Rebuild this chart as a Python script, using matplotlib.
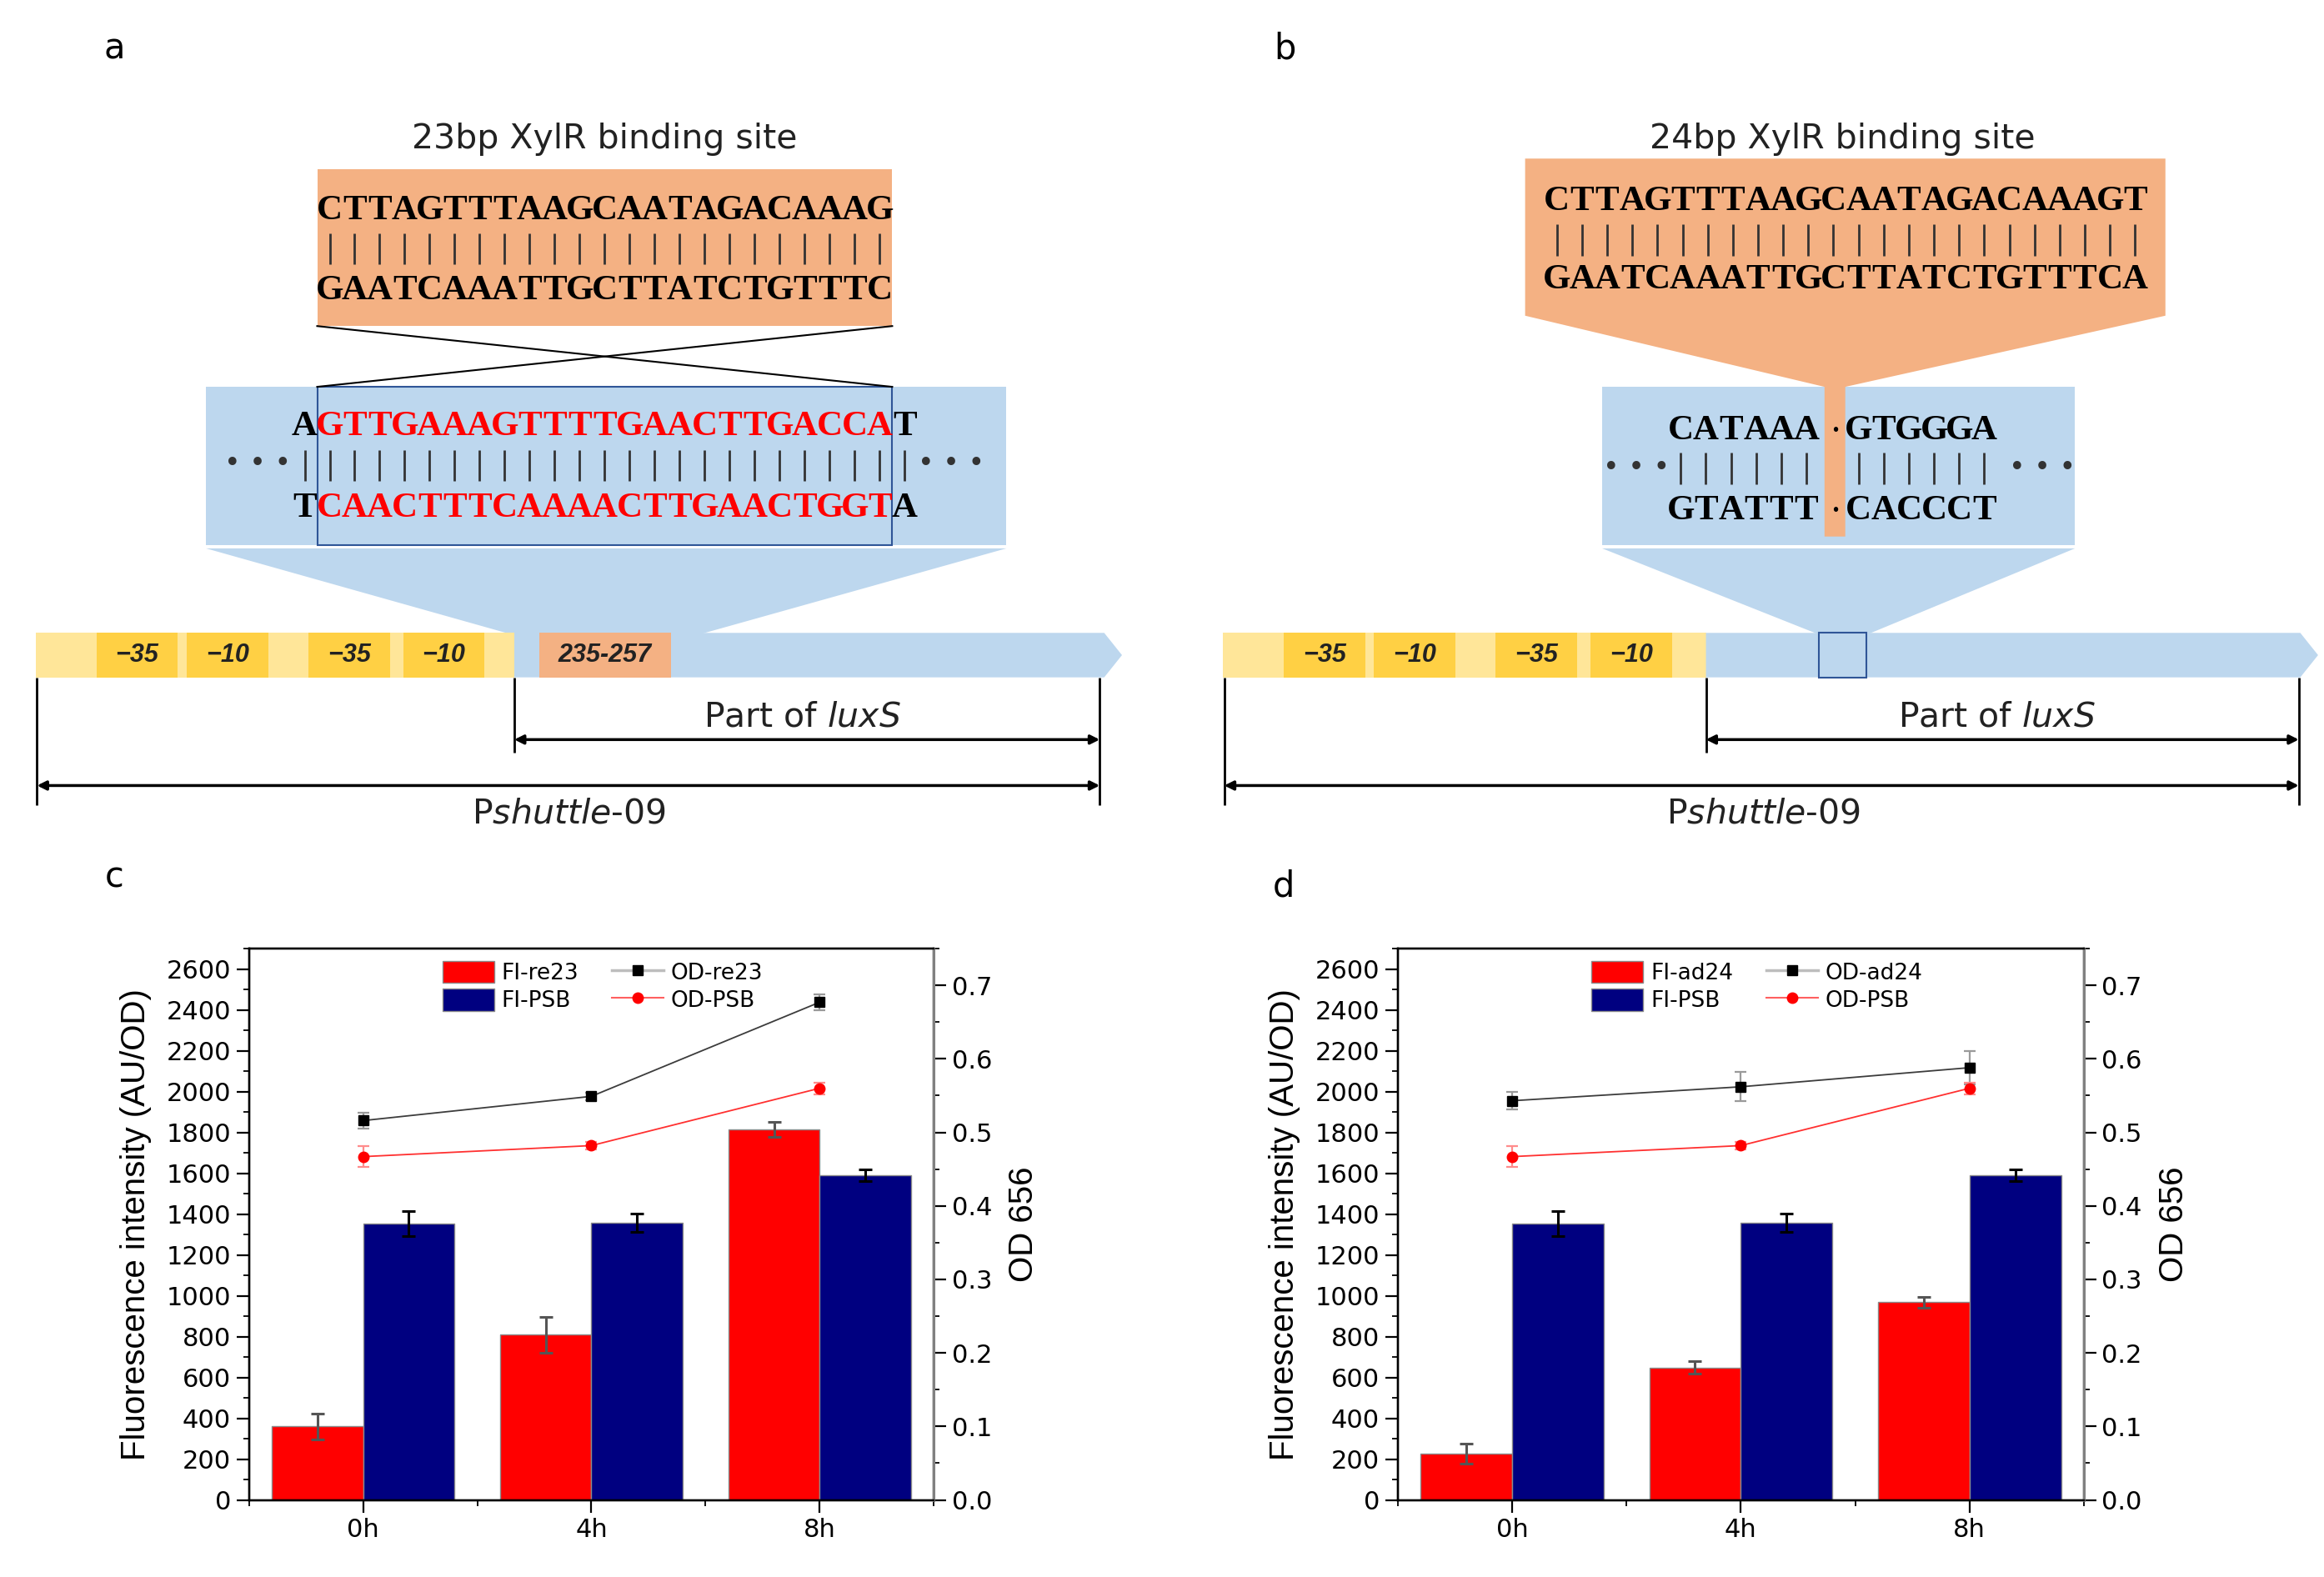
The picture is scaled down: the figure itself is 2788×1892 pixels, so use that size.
import numpy as np
import matplotlib
matplotlib.use('Agg')
import matplotlib.pyplot as plt
from matplotlib.patches import Polygon, Rectangle, Patch
from matplotlib.lines import Line2D
from matplotlib.ticker import MultipleLocator, FixedLocator, FormatStrFormatter

plt.rcParams['font.family'] = ['DejaVu Sans']
plt.rcParams['mathtext.fontset'] = 'dejavusans'

# ---- data ----
times = ['0h', '4h', '8h']
fi_re23 = [360, 810, 1815]
fi_re23_err = [62, 88, 36]
fi_ad24 = [227, 648, 968]
fi_ad24_err = [48, 31, 28]
fi_psb = [1353, 1357, 1590]
fi_psb_err = [62, 44, 30]
od_re23 = [0.516, 0.549, 0.677]
od_re23_err = [0.011, 0.005, 0.011]
od_ad24 = [0.543, 0.562, 0.588]
od_ad24_err = [0.012, 0.020, 0.023]
od_psb = [0.467, 0.482, 0.560]
od_psb_err = [0.014, 0.005, 0.008]

site23_top = 'CTTAGTTTAAGCAATAGACAAAG'
site23_bot = 'GAATCAAATTGCTTATCTGTTTC'
site24_top = 'CTTAGTTTAAGCAATAGACAAAGT'
site24_bot = 'GAATCAAATTGCTTATCTGTTTCA'
luxs_top = 'GTTGAAAGTTTTGAACTTGACCA'
luxs_bot = 'CAACTTTCAAAACTTGAACTGGT'
ins_top = ('CATAAA', 'GTGGGA')
ins_bot = ('GTATTT', 'CACCCT')
promoter_labels = ['−35', '−10', '−35', '−10']

# ---- colours ----
ORANGE = '#F4B183'
LBLUE = '#BDD7EE'
LYELLOW = '#FFE699'
GOLD = '#FFD044'
DBLUE = '#2F5597'
RED = '#FF0000'
NAVY = '#000080'

fig = plt.figure(figsize=(27.88, 18.92), dpi=100)

# overlay in reference-pixel units (1568 x 1064) for the schematic panels
W, H = 1568, 1064
ov = fig.add_axes([0, 0, 1, 1])
ov.set_xlim(0, W)
ov.set_ylim(H, 0)
ov.axis('off')

SEQ = dict(family='Liberation Serif', weight='bold', fontsize=31, ha='center', va='center')
LAB = dict(family='DejaVu Sans', fontsize=29.5, ha='center', va='center', color='#222222')
BOXLAB = dict(family='Liberation Sans', weight='bold', style='italic', fontsize=22,
              ha='center', va='center', color='#222222')
DOTS = dict(family='DejaVu Sans', fontsize=24, ha='center', va='center', color='#333333')


def seq_row(seq, x0, step, y, color='k'):
    for i, ch in enumerate(seq):
        ov.text(x0 + i * step, y, ch, color=color, **SEQ)


def pipes(x0, step, n, y):
    xs = x0 + step * np.arange(n)
    ov.vlines(xs, y - 10.5, y + 10.5, color='#333333', lw=2)


def promoter(x0, xsplit, xend, ybar=427, hbar=30):
    ov.add_patch(Rectangle((x0, ybar), xsplit - x0, hbar, color=LYELLOW, lw=0))
    for off, lab in zip([41, 102, 184, 248], promoter_labels):
        ov.add_patch(Rectangle((x0 + off, ybar), 55, hbar, color=GOLD, lw=0))
        ov.text(x0 + off + 27.5, ybar + hbar / 2, lab, **BOXLAB)
    ov.add_patch(Polygon([(xsplit, ybar), (xend, ybar), (xend + 12, ybar + hbar / 2),
                          (xend, ybar + hbar), (xsplit, ybar + hbar)], color=LBLUE, lw=0))


def dims(xl, xm, xr, cx1, cx2):
    ov.vlines([xl, xr], 457, 543, color='k', lw=2)
    ov.vlines([xm], 457, 508, color='k', lw=2)
    arr = dict(arrowstyle='<|-|>', lw=2.5, color='k', shrinkA=0, shrinkB=0, mutation_scale=16)
    ov.annotate('', xy=(xr, 499), xytext=(xm, 499), arrowprops=arr)
    ov.annotate('', xy=(xr, 530), xytext=(xl, 530), arrowprops=arr)
    ov.text(cx1, 484, 'Part of $\\mathit{luxS}$', **LAB)
    ov.text(cx2, 549, 'P$\\mathit{shuttle}$-$\\mathit{09}$', **LAB)


# ---------------- panel a ----------------
ov.text(77, 33, 'a', family='DejaVu Sans', fontsize=30, ha='center', va='center')
ov.text(408, 94, '23bp XylR binding site', **LAB)
ov.add_patch(Rectangle((214, 114), 388, 106, color=ORANGE, lw=0))
step_a = 388 / 23
x0_a = 214 + step_a / 2
seq_row(site23_top, x0_a, step_a, 142)
pipes(x0_a, step_a, 23, 168)
seq_row(site23_bot, x0_a, step_a, 196)
ov.plot([214, 602], [220, 261], color='k', lw=1.5)
ov.plot([602, 214], [220, 261], color='k', lw=1.5)

ov.add_patch(Rectangle((139, 261), 540, 107, color=LBLUE, lw=0))
ov.add_patch(Polygon([(139, 370), (679, 370), (472, 428), (345, 428)], color=LBLUE, lw=0))
ov.add_patch(Rectangle((214, 261), 388, 107, fill=False, ec=DBLUE, lw=1.5))
seq_row('A', x0_a - step_a, step_a, 288)
seq_row(luxs_top, x0_a, step_a, 288, color=RED)
seq_row('T', x0_a + 23 * step_a, step_a, 288)
pipes(x0_a - step_a, step_a, 25, 314)
seq_row('T', x0_a - step_a, step_a, 343)
seq_row(luxs_bot, x0_a, step_a, 343, color=RED)
seq_row('A', x0_a + 23 * step_a, step_a, 343)
ov.text(174, 313, '• • •', **DOTS)
ov.text(642, 313, '• • •', **DOTS)

promoter(24, 347, 745)
ov.add_patch(Rectangle((364, 427), 89, 30, color=ORANGE, lw=0))
ov.text(408, 442, '235-257', **BOXLAB)
dims(25, 347, 742, 541, 384)

# ---------------- panel b ----------------
ov.text(867, 33, 'b', family='DejaVu Sans', fontsize=30, ha='center', va='center')
ov.text(1243, 94, '24bp XylR binding site', **LAB)
ov.add_patch(Rectangle((1081, 261), 319, 107, color=LBLUE, lw=0))
ov.add_patch(Polygon([(1081, 370), (1400, 370), (1260, 428), (1227, 428)], color=LBLUE, lw=0))
ov.add_patch(Polygon([(1029, 107), (1461, 107), (1461, 213), (1245, 261), (1245, 362),
                      (1231, 362), (1231, 261), (1029, 213)], color=ORANGE, lw=0))
step_b = 407 / 24
x0_b = 1042 + step_b / 2
seq_row(site24_top, x0_b, step_b, 136)
pipes(x0_b, step_b, 24, 162)
seq_row(site24_bot, x0_b, step_b, 189)

xl_b = 1134.0
xr_b = 1254.0
seq_row(ins_top[0], xl_b, step_b, 291)
seq_row(ins_top[1], xr_b, step_b, 291)
pipes(xl_b, step_b, 6, 316)
pipes(xr_b, step_b, 6, 316)
seq_row(ins_bot[0], xl_b, step_b, 345)
seq_row(ins_bot[1], xr_b, step_b, 345)
for yy in (291, 345):
    ov.text(1238, yy, '·', family='Liberation Serif', weight='bold', fontsize=24,
            ha='center', va='center')
ov.text(1104, 316, '• • •', **DOTS)
ov.text(1378, 316, '• • •', **DOTS)

promoter(825, 1151, 1552)
ov.add_patch(Rectangle((1227, 427), 32, 30, fill=False, ec=DBLUE, lw=1.5))
dims(826, 1151, 1551, 1347, 1190)

# ---------------- panels c and d ----------------
ov.text(77, 592, 'c', family='DejaVu Sans', fontsize=30, ha='center', va='center')
ov.text(866, 598, 'd', family='DejaVu Sans', fontsize=30, ha='center', va='center')


def chart(rect, fi_var, fi_var_err, od_var, od_var_err, name):
    ax = fig.add_axes(rect)
    x = np.arange(len(times))
    w = 0.4
    ax.bar(x - w / 2, fi_var, w, color=RED, edgecolor='#8a8a8a', lw=1, zorder=2)
    ax.bar(x + w / 2, fi_psb, w, color=NAVY, edgecolor='#8a8a8a', lw=1, zorder=2)
    ax.errorbar(x - w / 2, fi_var, yerr=fi_var_err, fmt='none', ecolor='#555555',
                elinewidth=2.2, capsize=6, capthick=2.2, zorder=3)
    ax.errorbar(x + w / 2, fi_psb, yerr=fi_psb_err, fmt='none', ecolor='black',
                elinewidth=2.2, capsize=6, capthick=2.2, zorder=3)
    ax.set_xlim(-0.5, 2.5)
    ax.set_ylim(0, 2700)
    ax.yaxis.set_major_locator(MultipleLocator(200))
    ax.yaxis.set_minor_locator(MultipleLocator(100))
    ax.set_xticks(x)
    ax.set_xticklabels(times)
    ax.xaxis.set_minor_locator(FixedLocator([-0.5, 0.5, 1.5, 2.5]))
    ax.tick_params(which='major', direction='out', length=10.5, width=1.6, labelsize=22,
                   pad=5, top=False, right=False)
    ax.tick_params(which='minor', direction='out', length=5, width=1.3,
                   top=False, right=False)
    for s in ax.spines.values():
        s.set_linewidth(1.7)
    ax.set_ylabel('Fluorescence intensity (AU/OD)', fontsize=29, family='Liberation Sans')
    ax.yaxis.set_label_coords(-0.142, 0.5)

    ax2 = ax.twinx()
    ax2.errorbar(x, od_var, yerr=od_var_err, color='#3c3c3c', lw=1.3, marker='s', ms=9,
                 mfc='k', mec='k', ecolor='#9a9a9a', elinewidth=1.6, capsize=5, capthick=1.6)
    ax2.errorbar(x, od_psb, yerr=od_psb_err, color='#ff3030', lw=1.3, marker='o', ms=9,
                 mfc=RED, mec=RED, ecolor='#ff8c8c', elinewidth=1.6, capsize=5, capthick=1.6)
    ax2.set_ylim(0, 0.75)
    ax2.yaxis.set_major_locator(MultipleLocator(0.1))
    ax2.yaxis.set_minor_locator(MultipleLocator(0.05))
    ax2.yaxis.set_major_formatter(FormatStrFormatter('%.1f'))
    ax2.tick_params(which='major', direction='out', length=10.5, width=1.6, labelsize=22, pad=5)
    ax2.tick_params(which='minor', direction='out', length=5, width=1.3)
    for s in ax2.spines.values():
        s.set_linewidth(1.7)
    ax2.spines['right'].set_color('#808080')
    ax2.spines['right'].set_linewidth(2.2)
    ax2.set_ylabel('OD 656', fontsize=29, family='Liberation Sans')
    ax2.yaxis.set_label_coords(1.108, 0.5)

    handles = [Patch(facecolor=RED, edgecolor='#8a8a8a'),
               Patch(facecolor=NAVY, edgecolor='#8a8a8a'),
               Line2D([0], [0], color='#bdbdbd', lw=2.5, marker='s', ms=8, mfc='k', mec='k'),
               Line2D([0], [0], color='#ff6060', lw=1.5, marker='o', ms=9, mfc=RED, mec=RED)]
    labels = ['FI-' + name, 'FI-PSB', 'OD-' + name, 'OD-PSB']
    ax2.legend(handles, labels, ncol=2, loc='upper left', bbox_to_anchor=(0.2825, 0.978),
               frameon=False, fontsize=19, borderpad=0, borderaxespad=0,
               handlelength=2.35, handleheight=1.18, handletextpad=0.34,
               columnspacing=1.5, labelspacing=0.2)
    return ax, ax2


chart([168 / W, 1 - 1012 / H, 462 / W, 372 / H], fi_re23, fi_re23_err, od_re23, od_re23_err, 're23')
chart([943 / W, 1 - 1012 / H, 463 / W, 372 / H], fi_ad24, fi_ad24_err, od_ad24, od_ad24_err, 'ad24')

fig.savefig('out.png', dpi=100)
